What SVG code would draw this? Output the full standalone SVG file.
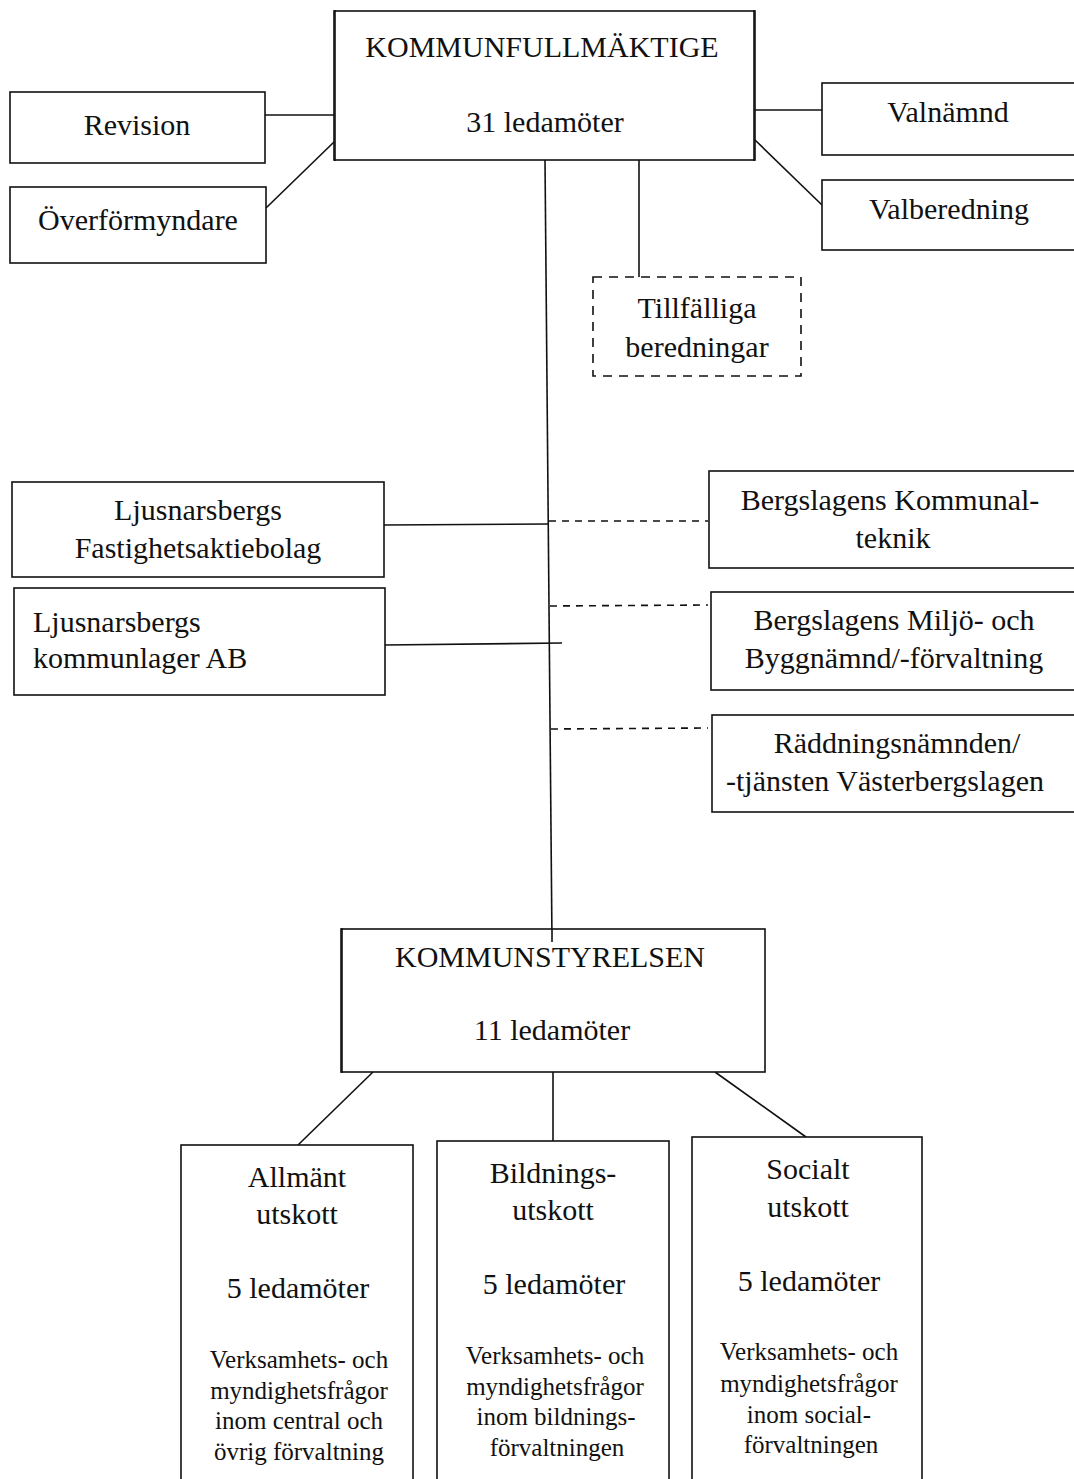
<svg xmlns="http://www.w3.org/2000/svg" width="1074" height="1479" viewBox="0 0 1074 1479">
<style>
text{font-family:"Liberation Serif","Times New Roman",serif;fill:#111;text-anchor:middle;font-size:30px}
.box{fill:#fff;stroke:#111;stroke-width:1.6}
.dbox{fill:#fff;stroke:#111;stroke-width:1.6;stroke-dasharray:9,7}
.ln{stroke:#111;stroke-width:1.6;fill:none}
.dl{stroke:#111;stroke-width:1.6;fill:none;stroke-dasharray:7,6}
.sm{font-size:25px}
.l{text-anchor:start}
</style>
<rect width="1074" height="1479" fill="#fff"/>
<g id="connectors">
<line class="ln" x1="265" y1="115" x2="334" y2="115"/>
<line class="ln" x1="266" y1="208" x2="334" y2="142"/>
<line class="ln" x1="755" y1="110" x2="822" y2="110"/>
<line class="ln" x1="755" y1="140" x2="822" y2="205"/>
<line class="ln" x1="639" y1="160" x2="639" y2="277"/>
<line class="ln" x1="545" y1="160" x2="552" y2="942"/>
<line class="ln" x1="384" y1="525" x2="549" y2="524"/>
<line class="ln" x1="385" y1="645" x2="562" y2="643"/>
<line class="dl" x1="549" y1="521" x2="708" y2="521"/>
<line class="dl" x1="550" y1="606" x2="708" y2="605"/>
<line class="dl" x1="551" y1="729" x2="708" y2="728"/>
<line class="ln" x1="373" y1="1072" x2="298" y2="1145"/>
<line class="ln" x1="553" y1="1072" x2="553" y2="1141"/>
<line class="ln" x1="715" y1="1072" x2="806" y2="1137"/>
</g>
<g id="kommunfullmaktige">
<rect class="box" x="334" y="11" width="421" height="149" stroke-width="2.5"/>
<line class="ln" x1="335" y1="10" x2="335" y2="161" stroke-width="4"/>
<line class="ln" x1="754" y1="10" x2="754" y2="161" stroke-width="4"/>
<text x="542" y="57">KOMMUNFULLMÄKTIGE</text>
<text x="545" y="132">31 ledamöter</text>
</g>
<g id="revision">
<rect class="box" x="10" y="92" width="255" height="71"/>
<text x="137" y="135">Revision</text>
</g>
<g id="overformyndare">
<rect class="box" x="10" y="187" width="256" height="76"/>
<text x="138" y="230">Överförmyndare</text>
</g>
<g id="valnamnd">
<rect class="box" x="822" y="83" width="260" height="72"/>
<text x="948" y="122">Valnämnd</text>
</g>
<g id="valberedning">
<rect class="box" x="822" y="180" width="260" height="70"/>
<text x="949" y="219">Valberedning</text>
</g>
<g id="tillfalliga">
<rect class="dbox" x="593" y="277" width="208" height="99"/>
<text x="697" y="318">Tillfälliga</text>
<text x="697" y="357">beredningar</text>
</g>
<g id="fastighetsaktiebolag">
<rect class="box" x="12" y="482" width="372" height="95"/>
<text x="198" y="520">Ljusnarsbergs</text>
<text x="198" y="558">Fastighetsaktiebolag</text>
</g>
<g id="kommunlager">
<rect class="box" x="14" y="588" width="371" height="107"/>
<text class="l" x="33" y="632">Ljusnarsbergs</text>
<text class="l" x="33" y="668">kommunlager AB</text>
</g>
<g id="kommunalteknik">
<rect class="box" x="709" y="471" width="370" height="97"/>
<text x="890" y="510">Bergslagens Kommunal-</text>
<text x="893" y="548">teknik</text>
</g>
<g id="miljo-bygg">
<rect class="box" x="711" y="592" width="368" height="98"/>
<text x="894" y="630">Bergslagens Miljö- och</text>
<text x="894" y="668">Byggnämnd/-förvaltning</text>
</g>
<g id="raddning">
<rect class="box" x="712" y="715" width="367" height="97"/>
<text x="897" y="753">Räddningsnämnden/</text>
<text x="885" y="791">-tjänsten Västerbergslagen</text>
</g>
<g id="kommunstyrelsen">
<rect class="box" x="341" y="929" width="424" height="143" stroke-width="2"/>
<line class="ln" x1="342" y1="928" x2="342" y2="1073" stroke-width="3.5"/>
<line class="ln" x1="552" y1="929" x2="552" y2="942"/>
<text x="550" y="967">KOMMUNSTYRELSEN</text>
<text x="552" y="1040">11 ledamöter</text>
</g>
<g id="allmant">
<rect class="box" x="181" y="1145" width="232" height="345"/>
<text x="297" y="1187">Allmänt</text>
<text x="297" y="1224">utskott</text>
<text x="298" y="1298">5 ledamöter</text>
<text class="sm" x="299" y="1368">Verksamhets- och</text>
<text class="sm" x="299" y="1399">myndighetsfrågor</text>
<text class="sm" x="299" y="1429">inom central och</text>
<text class="sm" x="299" y="1460">övrig förvaltning</text>
</g>
<g id="bildnings">
<rect class="box" x="437" y="1141" width="232" height="349"/>
<text x="553" y="1183">Bildnings-</text>
<text x="553" y="1220">utskott</text>
<text x="554" y="1294">5 ledamöter</text>
<text class="sm" x="555" y="1364">Verksamhets- och</text>
<text class="sm" x="555" y="1395">myndighetsfrågor</text>
<text class="sm" x="556" y="1425">inom bildnings-</text>
<text class="sm" x="557" y="1456">förvaltningen</text>
</g>
<g id="socialt">
<rect class="box" x="692" y="1137" width="230" height="353"/>
<text x="808" y="1179">Socialt</text>
<text x="808" y="1217">utskott</text>
<text x="809" y="1291">5 ledamöter</text>
<text class="sm" x="809" y="1360">Verksamhets- och</text>
<text class="sm" x="809" y="1392">myndighetsfrågor</text>
<text class="sm" x="809" y="1423">inom social-</text>
<text class="sm" x="811" y="1453">förvaltningen</text>
</g>
</svg>
